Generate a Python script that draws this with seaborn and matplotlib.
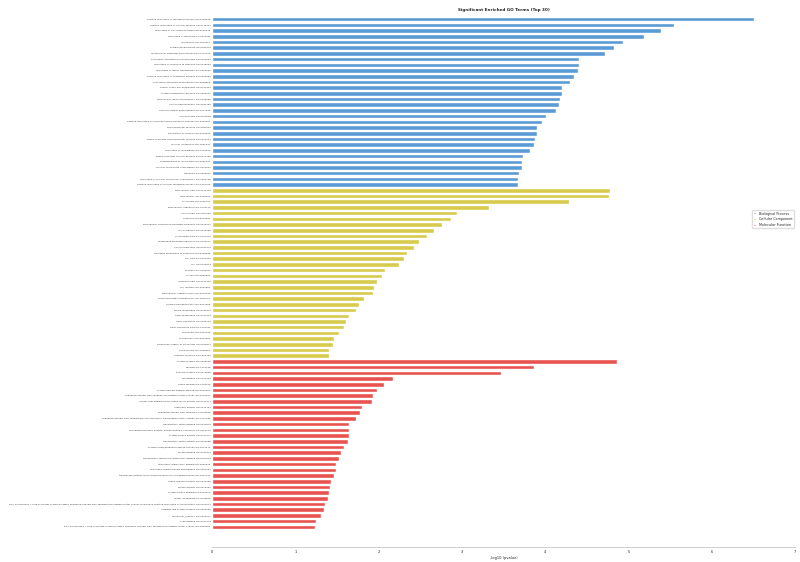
import pandas as pd
import numpy as np
import matplotlib
matplotlib.use('Agg')
import matplotlib.pyplot as plt
import seaborn as sns

# GO terms (top 30 per category)
bp_terms = [
    'positive regulation of biological process GO:0048518',
    'positive regulation of cellular process GO:0048522',
    'regulation of cell communication GO:0010646',
    'regulation of signaling GO:0023051',
    'locomotion GO:0040011',
    'system development GO:0048731',
    'multicellular organism development GO:0007275',
    'anatomical structure morphogenesis GO:0009653',
    'regulation of response to stimulus GO:0048583',
    'regulation of signal transduction GO:0009966',
    'positive regulation of metabolic process GO:0009893',
    'anatomical structure development GO:0048856',
    'animal organ morphogenesis GO:0009887',
    'protein modification process GO:0036211',
    'intracellular signal transduction GO:0035556',
    'neuron differentiation GO:0030182',
    'nervous system development GO:0007399',
    'neurogenesis GO:0022008',
    'positive regulation of macromolecule metabolic process GO:0010604',
    'developmental process GO:0032502',
    'generation of neurons GO:0048699',
    'single-organism developmental process GO:0044767',
    'cellular localization GO:0051641',
    'regulation of localization GO:0032879',
    'single-organism cellular process GO:0044763',
    'establishment of localization GO:0051234',
    'cellular component organization GO:0016043',
    'transport GO:0006810',
    'regulation of cellular component organization GO:0051128',
    'positive regulation of cellular metabolic process GO:0031325',
]
bp_values = [6.51, 5.55, 5.39, 5.19, 4.93, 4.83, 4.72, 4.41, 4.41, 4.39,
             4.35, 4.30, 4.20, 4.20, 4.18, 4.16, 4.13, 4.01, 3.96, 3.90,
             3.90, 3.88, 3.86, 3.82, 3.73, 3.72, 3.72, 3.69, 3.67, 3.67]

cc_terms = [
    'intracellular part GO:0044424',
    'intracellular GO:0005622',
    'cytoplasm GO:0005737',
    'intracellular organelle GO:0043229',
    'neuron part GO:0097458',
    'organelle GO:0043226',
    'intracellular membrane-bounded organelle GO:0043231',
    'cell projection GO:0042995',
    'cytoplasmic part GO:0044444',
    'membrane-bounded organelle GO:0043227',
    'neuron projection GO:0043005',
    'bounding membrane of organelle GO:0098588',
    'cell part GO:0044464',
    'cell GO:0005623',
    'synapse GO:0045202',
    'cytosol GO:0005829',
    'organelle part GO:0044422',
    'cell junction GO:0030054',
    'intracellular organelle part GO:0044446',
    'somatodendritic compartment GO:0036477',
    'plasma membrane part GO:0044459',
    'whole membrane GO:0098805',
    'Golgi membrane GO:0000139',
    'Golgi apparatus GO:0005794',
    'Golgi apparatus part GO:0044431',
    'endosome GO:0005768',
    'synapse part GO:0044456',
    'perinuclear region of cytoplasm GO:0048471',
    'nucleoplasm GO:0005654',
    'catalytic complex GO:1902494',
]
cc_values = [4.78, 4.77, 4.28, 3.33, 2.94, 2.87, 2.76, 2.66, 2.58, 2.48,
             2.42, 2.34, 2.30, 2.24, 2.08, 2.04, 1.98, 1.95, 1.93, 1.82,
             1.76, 1.73, 1.65, 1.61, 1.58, 1.52, 1.47, 1.45, 1.41, 1.41]

mf_terms = [
    'protein binding GO:0005515',
    'binding GO:0005488',
    'enzyme binding GO:0019899',
    'ion binding GO:0043167',
    'cation binding GO:0043169',
    'protein domain specific binding GO:0019904',
    'sequence-specific DNA binding transcription factor activity GO:0003700',
    'nucleic acid binding transcription factor activity GO:0001071',
    'hydrolase activity GO:0016787',
    'sequence-specific DNA binding GO:0043565',
    'sequence-specific DNA binding RNA polymerase II transcription factor activity GO:0000981',
    'transcription factor binding GO:0008134',
    'phosphotransferase activity, alcohol group as acceptor GO:0016773',
    'protein kinase activity GO:0004672',
    'transcription factor activity GO:0000988',
    'protein serine/threonine kinase activity GO:0004674',
    'kinase binding GO:0019900',
    'transcription regulatory region DNA binding GO:0044212',
    'regulatory region DNA binding GO:0000975',
    'regulatory region nucleic acid binding GO:0001067',
    'transferase activity, transferring phosphorus-containing groups GO:0016772',
    'cation channel binding GO:0044325',
    'kinase activity GO:0016301',
    'protein kinase binding GO:0019901',
    'metal ion binding GO:0046872',
    'RNA polymerase II core promoter proximal region sequence-specific DNA binding transcription factor activity involved in positive regulation of transcription GO:0001077',
    'ubiquitin-like protein binding GO:0032182',
    'molecular_function GO:0003674',
    'actin binding GO:0003779',
    'RNA polymerase II core promoter proximal region sequence-specific DNA binding transcription factor activity GO:0000982',
]
mf_values = [4.86, 3.86, 3.47, 2.17, 2.06, 1.98, 1.93, 1.92, 1.80, 1.78,
             1.73, 1.65, 1.65, 1.64, 1.63, 1.58, 1.55, 1.52, 1.49, 1.49,
             1.47, 1.43, 1.42, 1.40, 1.39, 1.36, 1.35, 1.31, 1.25, 1.24]

categories = ['Biological Process', 'Cellular Component', 'Molecular Function']
colors = ['#5B9BD5', '#D6CB4C', '#E8534F']

df = pd.DataFrame({
    'term': bp_terms + cc_terms + mf_terms,
    'value': bp_values + cc_values + mf_values,
    'category': [categories[0]] * len(bp_terms) + [categories[1]] * len(cc_terms)
                + [categories[2]] * len(mf_terms),
})

sns.set_style('white')
plt.rcParams['font.family'] = ['DejaVu Sans']

fig = plt.figure(figsize=(8, 5.62), dpi=100)
ax = fig.add_axes([0.265, 0.027, 0.729, 0.948])

sns.barplot(data=df, y='term', x='value', hue='category', palette=colors,
            dodge=False, width=0.8, ax=ax, saturation=1)

ax.set_xlim(0, 7)
ax.set_ylim(len(df) + 2.5, -0.9)
ax.set_xticks(range(0, 8))
ax.tick_params(axis='y', labelsize=1.75, length=0, pad=1, labelcolor='#333333')
ax.tick_params(axis='x', labelsize=2.6, length=1.5, width=0.4, pad=1, color='#999999')
ax.set_xlabel('-log10 (pvalue)', fontsize=2.6, labelpad=1)
ax.set_ylabel('')
ax.set_title('Significant Enriched GO Terms (Top 30)', fontsize=3, fontweight='bold', pad=2)

for s in ['top', 'right', 'left']:
    ax.spines[s].set_visible(False)
ax.spines['bottom'].set_color('#bbbbbb')
ax.spines['bottom'].set_linewidth(0.5)

ax.legend(loc='upper right', bbox_to_anchor=(1.0, 0.635), fontsize=2.4,
          frameon=True, framealpha=1, edgecolor='#dddddd', handlelength=0.8,
          handleheight=0.6, borderpad=0.4)

plt.savefig('out.png', dpi=100)
